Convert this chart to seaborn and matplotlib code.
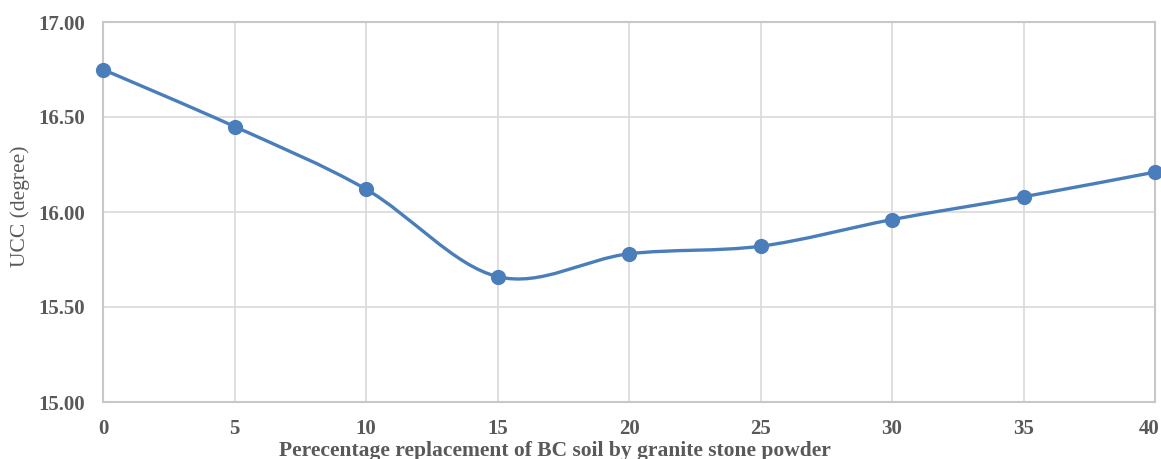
import numpy as np
import pandas as pd
import matplotlib
matplotlib.use("Agg")
import matplotlib.pyplot as plt
import matplotlib.transforms as mtransforms
import seaborn as sns
from matplotlib.path import Path
from matplotlib.patches import PathPatch

replacement = [0, 5, 10, 15, 20, 25, 30, 35, 40]
ucc = [16.75, 16.45, 16.12, 15.66, 15.78, 15.82, 15.96, 16.08, 16.21]
y_ticks = [15.00, 15.50, 16.00, 16.50, 17.00]
x_ticks = [0, 5, 10, 15, 20, 25, 30, 35, 40]

sns.set_theme(style="whitegrid")
plt.rcParams['font.family'] = ['Liberation Serif', 'DejaVu Serif']

df = pd.DataFrame({"x": replacement, "y": ucc})
color = "#4a7ebb"
text_color = "#595959"

fig = plt.figure(figsize=(11.61, 4.59), dpi=100)
ax = fig.add_axes([103/1161, 1 - 402/459, (1155-103)/1161, (402-22)/459])

# smooth (Catmull-Rom style) line through the data points
xs = np.array(replacement, float)
ys = np.array(ucc, float)
verts = [(xs[0], ys[0])]
codes = [Path.MOVETO]
n = len(xs)
for i in range(n - 1):
    p0 = np.array([xs[max(i-1, 0)], ys[max(i-1, 0)]])
    p1 = np.array([xs[i], ys[i]])
    p2 = np.array([xs[i+1], ys[i+1]])
    p3 = np.array([xs[min(i+2, n-1)], ys[min(i+2, n-1)]])
    c1 = p1 + (p2 - p0) / 6
    c2 = p2 - (p3 - p1) / 6
    verts += [tuple(c1), tuple(c2), tuple(p2)]
    codes += [Path.CURVE4] * 3
ax.add_patch(PathPatch(Path(verts, codes), facecolor="none", edgecolor=color,
                       linewidth=2.4, zorder=3, capstyle="round"))

sns.scatterplot(data=df, x="x", y="y", ax=ax, color=color, s=120,
                edgecolor=color, linewidth=0, zorder=4, clip_on=False)

ax.set_xlim(0, 40)
ax.set_ylim(15, 17)
ax.set_xticks(x_ticks)
ax.set_yticks(y_ticks)
ax.set_xticklabels([str(v) for v in x_ticks])
ax.set_yticklabels([f"{v:.2f}" for v in y_ticks])
ax.grid(True, color="#d9d9d9", linewidth=1.2)
for s in ax.spines.values():
    s.set_visible(True)
    s.set_color("#c8c8c8")
    s.set_linewidth(1.5)
ax.tick_params(axis="both", length=0, labelsize=15, labelcolor=text_color)
ax.tick_params(axis="x", pad=12)
ax.tick_params(axis="y", pad=13)
for lab in ax.get_xticklabels() + ax.get_yticklabels():
    lab.set_fontweight("bold")
last = ax.get_xticklabels()[-1]
last.set_transform(last.get_transform() +
                   mtransforms.ScaledTranslation(-6/100, 0, fig.dpi_scale_trans))

ax.set_xlabel("Perecentage replacement of BC soil by granite stone powder",
              fontsize=15.5, fontweight="bold", color=text_color)
ax.xaxis.set_label_coords((555-103)/1052, -(441-402)/380)
ax.set_ylabel("UCC (degree)", fontsize=15.5, color=text_color)
ax.yaxis.set_label_coords((30-103)/1052, 0.515)

fig.savefig("out.png", dpi=100)
